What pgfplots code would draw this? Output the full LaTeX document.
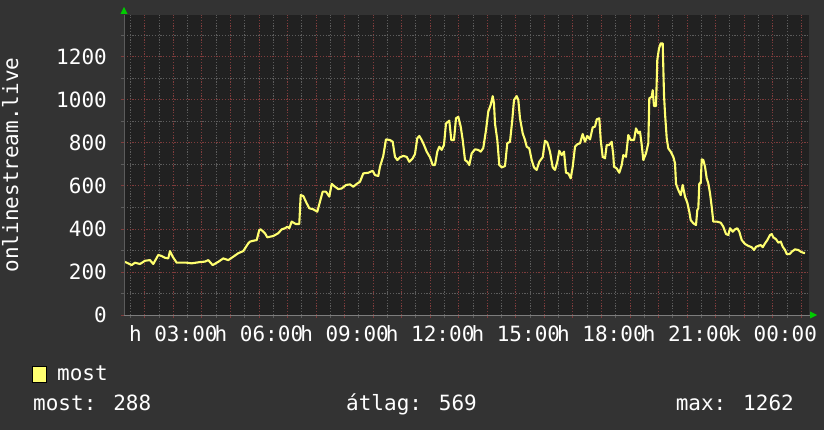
\documentclass[border=0pt]{standalone}
\usepackage{pgfplots}
\pgfplotsset{compat=1.18}
\usepackage{fontspec}
\setmainfont{DejaVu Sans Mono}
\definecolor{bg}{HTML}{333333}
\definecolor{plotbg}{HTML}{212121}
\definecolor{majgrid}{HTML}{7F3C3C}
\definecolor{mingrid}{HTML}{5C5C5C}
\definecolor{serie}{HTML}{FFFF70}
\definecolor{arrowgreen}{HTML}{00CC00}
\newcommand{\bigfont}{\fontsize{21}{24}\selectfont}

\pgfplotstableread{
h v
1.307 247
1.542 232
1.657 243
1.833 237
2.008 252
2.183 255
2.299 237
2.474 279
2.593 274
2.708 266
2.824 263
2.884 297
2.978 271
3.118 243
3.469 243
3.644 240
3.935 246
4.110 248
4.226 255
4.380 232
4.576 247
4.751 263
4.927 255
5.102 271
5.277 287
5.452 297
5.627 333
5.687 341
5.802 345
5.922 348
6.013 395
6.062 398
6.212 380
6.293 361
6.503 367
6.678 380
6.798 398
6.913 403
6.994 410
7.064 403
7.148 434
7.288 423
7.414 423
7.463 557
7.554 553
7.674 519
7.765 496
7.905 491
8.045 480
8.140 527
8.234 573
8.350 573
8.465 550
8.550 609
8.665 596
8.781 585
8.900 588
9.051 604
9.191 607
9.306 596
9.425 609
9.541 619
9.657 658
9.832 661
9.986 670
10.067 650
10.182 646
10.242 689
10.357 739
10.452 816
10.592 813
10.687 805
10.767 735
10.848 720
10.943 733
11.058 739
11.177 735
11.269 712
11.388 728
11.468 748
11.549 821
11.619 832
11.703 813
11.784 790
11.878 759
11.994 733
12.088 697
12.169 697
12.250 759
12.320 782
12.404 767
12.484 790
12.554 890
12.670 903
12.740 813
12.835 813
12.905 914
12.985 921
13.070 875
13.140 813
13.220 720
13.301 712
13.371 697
13.455 751
13.571 770
13.686 767
13.770 759
13.861 776
13.956 859
14.036 945
14.121 976
14.191 1017
14.236 983
14.271 890
14.352 813
14.422 697
14.506 686
14.622 692
14.702 798
14.797 805
14.877 906
14.937 999
15.032 1017
15.088 999
15.147 914
15.242 844
15.323 813
15.382 782
15.473 774
15.557 720
15.638 686
15.732 674
15.823 712
15.942 733
16.023 810
16.104 801
16.198 759
16.293 686
16.373 674
16.454 712
16.524 763
16.608 743
16.689 759
16.759 661
16.840 658
16.924 635
16.994 689
17.075 782
17.155 793
17.250 798
17.344 841
17.425 805
17.505 832
17.600 816
17.695 872
17.775 875
17.835 909
17.926 914
17.975 813
18.045 735
18.126 728
18.185 790
18.276 790
18.360 805
18.416 743
18.441 689
18.536 681
18.627 661
18.711 697
18.767 743
18.861 735
18.942 836
19.026 813
19.142 813
19.212 867
19.293 844
19.352 852
19.412 790
19.468 720
19.562 751
19.643 798
19.678 1007
19.762 1014
19.797 1045
19.843 971
19.913 971
19.958 1185
20.018 1239
20.077 1262
20.147 1262
20.193 1022
20.228 937
20.288 821
20.344 774
20.428 759
20.519 735
20.578 705
20.614 609
20.694 581
20.778 557
20.848 604
20.929 550
21.009 522
21.079 480
21.128 441
21.220 426
21.314 418
21.360 488
21.395 496
21.430 612
21.479 612
21.514 723
21.570 720
21.630 689
21.689 635
21.745 612
21.805 565
21.864 503
21.920 434
22.040 434
22.180 429
22.271 410
22.366 376
22.446 372
22.506 403
22.600 387
22.681 398
22.761 403
22.831 387
22.916 348
23.031 330
23.147 321
23.266 315
23.347 302
23.417 317
23.497 321
23.581 325
23.652 315
23.732 333
23.813 348
23.907 372
23.967 376
24.023 361
24.118 352
24.198 336
24.283 341
24.353 317
24.433 302
24.493 283
24.594 283
24.668 294
24.783 305
24.899 302
24.983 294
25.074 289
25.134 288
}\viewers

\begin{document}
\begin{tikzpicture}[x=1pt,y=1pt]
\fill[bg] (0,0) rectangle (824,430);
\useasboundingbox (0,0) rectangle (824,430);
\begin{axis}[
  at={(124pt,115pt)}, anchor=south west,
  scale only axis, width=685pt, height=300pt,
  xmin=1.273, xmax=25.273, ymin=0, ymax=1394,
  axis background/.style={fill=plotbg},
  axis line style={draw=none},
  xtick={2,...,25},
  xticklabels={{},h 03:00,{},{},h 06:00,{},{},h 09:00,{},{},h 12:00,{},{},h 15:00,{},{},h 18:00,{},{},h 21:00,{},{},k 00:00,{}},
  minor xtick={1.5,2.5,...,25.5},
  ytick={0,200,...,1200},
  minor ytick={100,300,...,1300},
  xtick pos=bottom, ytick pos=left,
  tick align=outside,
  major tick length=3pt, minor tick length=3pt,
  major tick style={draw=majgrid, line width=0.8pt},
  minor tick style={draw=mingrid, line width=0.8pt},
  grid=both,
  major grid style={draw=majgrid, line width=0.8pt, dash pattern=on 1.2pt off 1.6pt},
  minor grid style={draw=mingrid, line width=0.8pt, dash pattern=on 1.2pt off 1.6pt},
  /pgf/number format/assume math mode=true,
  /pgf/number format/set thousands separator={},
  tick label style={font=\bigfont, text=white},
  xticklabel style={inner sep=0pt, anchor=north, yshift=-7pt},
  yticklabel style={inner sep=0pt, anchor=east, xshift=-14pt},
  ylabel={onlinestream.live},
  ylabel style={font=\bigfont, text=white, at={(axis description cs:-0.1547,0.5)}, anchor=base, rotate=0},
  clip=true,
]
\addplot[serie, line width=2.1pt, line join=round, mark=none] table[x=h, y=v] {\viewers};
\end{axis}
% axis line and arrows
\draw[draw=mingrid!80!white, line width=0.8pt] (124,115) -- (810,115);
\draw[draw=mingrid, line width=0.8pt] (124,115) -- (124,415);
\fill[arrowgreen] (120.5,416) -- (127.5,416) -- (124,423) -- cycle;
\fill[arrowgreen] (810,111.5) -- (810,118.5) -- (817,115) -- cycle;
% legend
\draw[fill=serie, draw=black, line width=0.8pt] (32,48) rectangle (46,64);
\node[anchor=base west, inner sep=0pt, text=white, font=\bigfont] at (57,49) {most};
\node[anchor=base west, inner sep=0pt, text=white, font=\bigfont] at (33,19) {most: 288};
\node[anchor=base west, inner sep=0pt, text=white, font=\bigfont] at (346,19) {átlag: 569};
\node[anchor=base east, inner sep=0pt, text=white, font=\bigfont] at (794,19) {max: 1262};
\end{tikzpicture}
\end{document}
